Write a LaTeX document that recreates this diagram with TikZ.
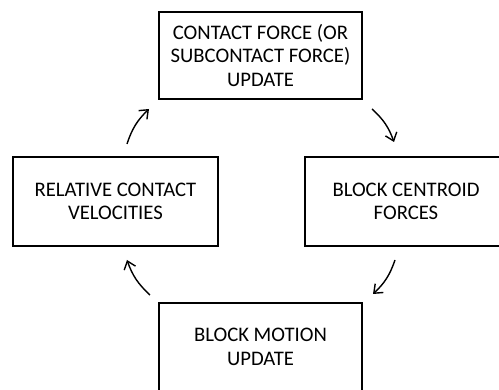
\documentclass[tikz,border=0pt]{standalone}
\usepackage{fontspec}
\setmainfont{Carlito}
\usetikzlibrary{arrows.meta}
\begin{document}
\begin{tikzpicture}[x=1pt,y=-1pt,
  box/.style={draw,line width=1.3pt,align=center,inner sep=0pt,
    font=\fontsize{20.7}{23.3}\selectfont},
  cyc/.style={line width=1.4pt,-{Straight Barb[length=7.5pt,width=12pt,line width=1.4pt]},bend left=14}]
\useasboundingbox (0,0) rectangle (499,390);
\clip (0,0) rectangle (499,390);
\node[box,minimum width=203pt,minimum height=87pt] (top) at (260.5,55.5)
  {CONTACT FORCE (OR\\SUBCONTACT FORCE)\\UPDATE};
\node[box,minimum width=205pt,minimum height=89pt] (left) at (115.5,201.5)
  {RELATIVE CONTACT\\VELOCITIES};
\node[box,minimum width=202pt,minimum height=89pt] (right) at (406,201.5)
  {BLOCK CENTROID\\FORCES};
\node[box,minimum width=203pt,minimum height=88pt] (bottom) at (260.5,347)
  {BLOCK MOTION\\UPDATE};
\coordinate (a1) at (127,144); \coordinate (b1) at (149,109);
\coordinate (a2) at (372,109); \coordinate (b2) at (394,142);
\coordinate (a3) at (395,260); \coordinate (b3) at (373,294);
\coordinate (a4) at (150,295); \coordinate (b4) at (127,260);
\draw[cyc] (a1) to (b1);
\draw[cyc] (a2) to (b2);
\draw[cyc] (a3) to (b3);
\draw[cyc] (a4) to (b4);
\end{tikzpicture}
\end{document}
